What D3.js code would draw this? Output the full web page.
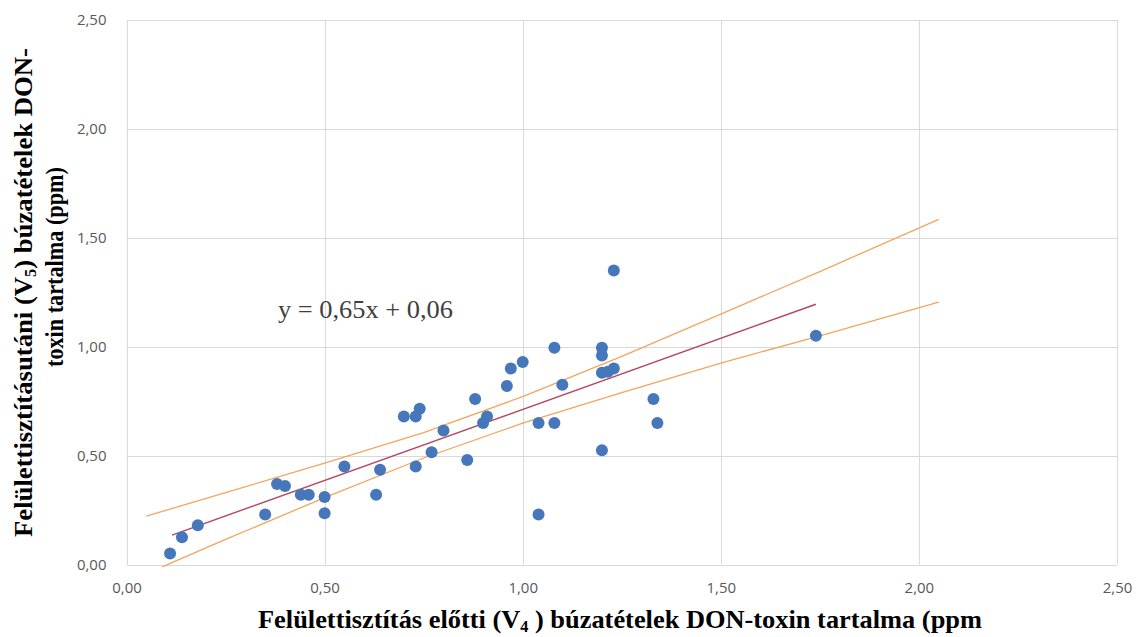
<!DOCTYPE html>
<html>
<head>
<meta charset="utf-8">
<script src="https://cdn.jsdelivr.net/npm/d3@7"></script>
<style>
  html, body { margin: 0; padding: 0; background: #fff; }
  svg { display: block; }
</style>
</head>
<body>
<svg id="chart" width="1136" height="637"></svg>
<script>
// ---- Data ----
const pointsX = [0.11, 0.14, 0.18, 0.35, 0.38, 0.40, 0.44, 0.46, 0.50, 0.50,
                 0.55, 0.63, 0.64, 0.70, 0.73, 0.74, 0.73, 0.77, 0.80, 0.86,
                 0.88, 0.90, 0.91, 0.96, 0.97, 1.00, 1.04, 1.04, 1.08, 1.08,
                 1.10, 1.20, 1.20, 1.20, 1.215, 1.23, 1.20, 1.23, 1.33, 1.34, 1.74];
const pointsY = [0.05, 0.125, 0.18, 0.23, 0.37, 0.36, 0.32, 0.32, 0.31, 0.235,
                 0.45, 0.32, 0.435, 0.68, 0.68, 0.715, 0.45, 0.515, 0.615, 0.48,
                 0.76, 0.65, 0.68, 0.82, 0.90, 0.93, 0.65, 0.23, 0.995, 0.65,
                 0.825, 0.995, 0.96, 0.88, 0.885, 0.90, 0.525, 1.35, 0.76, 0.65, 1.05];

// Trend line end points (y = 0,65x + 0,06), drawn across the data range
const trendX = [0.115, 1.74];
const trendY = [0.135, 1.195];

// Upper and lower confidence band lines
const upperX = [0.05, 0.25, 0.50, 0.75, 1.00, 1.25, 1.50, 1.75, 2.05];
const upperY = [0.222, 0.330, 0.465, 0.606, 0.771, 0.956, 1.150, 1.345, 1.585];
const lowerX = [0.09, 0.25, 0.50, 0.75, 1.00, 1.25, 1.50, 1.75, 2.05];
const lowerY = [-0.011, 0.115, 0.307, 0.489, 0.649, 0.789, 0.925, 1.050, 1.205];

const xTicks = [0, 0.5, 1.0, 1.5, 2.0, 2.5];
const yTicks = [0, 0.5, 1.0, 1.5, 2.0, 2.5];
const equationText = "y = 0,65x + 0,06";

// ---- Drawing ----
const svg = d3.select("#chart");
const x = d3.scaleLinear().domain([0, 2.5]).range([126.5, 1117]);
const y = d3.scaleLinear().domain([0, 2.5]).range([564.5, 20]);
const fmt = v => d3.format(".2f")(v).replace(".", ",");

// gridlines
const grid = svg.append("g").attr("class", "grid");
grid.selectAll("line.h").data(yTicks).join("line")
  .attr("x1", x(0)).attr("x2", x(2.5))
  .attr("y1", d => Math.round(y(d)) + 0.5).attr("y2", d => Math.round(y(d)) + 0.5)
  .attr("stroke", "#d9d9d9").attr("stroke-width", 1);
grid.selectAll("line.v").data(xTicks).join("line")
  .attr("y1", y(0)).attr("y2", y(2.5))
  .attr("x1", d => Math.round(x(d)) + 0.5).attr("x2", d => Math.round(x(d)) + 0.5)
  .attr("stroke", "#d9d9d9").attr("stroke-width", 1);

// axes (labels only, lines are the gridlines)
const xAxis = svg.append("g")
  .attr("transform", `translate(0,${y(0)})`)
  .call(d3.axisBottom(x).tickValues(xTicks).tickFormat(fmt).tickSize(0).tickPadding(18));
const yAxis = svg.append("g")
  .attr("transform", `translate(${x(0)},0)`)
  .call(d3.axisLeft(y).tickValues(yTicks).tickFormat(fmt).tickSize(0).tickPadding(20));
[xAxis, yAxis].forEach(a => {
  a.select(".domain").remove();
  a.selectAll("text")
    .attr("font-family", "'Open Sans', sans-serif")
    .attr("font-size", 15)
    .attr("fill", "#595959");
});

// confidence bands
const line = d3.line().x(d => x(d[0])).y(d => y(d[1]));
svg.append("path")
  .attr("d", line(d3.zip(upperX, upperY)))
  .attr("fill", "none").attr("stroke", "#f2a55e").attr("stroke-width", 1.3);
svg.append("path")
  .attr("d", line(d3.zip(lowerX, lowerY)))
  .attr("fill", "none").attr("stroke", "#f2a55e").attr("stroke-width", 1.3);

// trend line
svg.append("path")
  .attr("d", line(d3.zip(trendX, trendY)))
  .attr("fill", "none").attr("stroke", "#b3475f").attr("stroke-width", 1.4);

// points
svg.append("g").selectAll("circle")
  .data(d3.zip(pointsX, pointsY)).join("circle")
  .attr("cx", d => x(d[0])).attr("cy", d => y(d[1]))
  .attr("r", 6)
  .attr("fill", "#4577ba");

// equation
svg.append("text")
  .attr("x", 278).attr("y", 318)
  .attr("font-family", "'Liberation Serif', 'Times New Roman', serif")
  .attr("font-size", 26)
  .attr("fill", "#404040")
  .attr("textLength", 175).attr("lengthAdjust", "spacingAndGlyphs")
  .text(equationText);

// x axis title
const xt = svg.append("text")
  .attr("x", 258).attr("y", 628)
  .attr("font-family", "'Liberation Serif', 'Times New Roman', serif")
  .attr("font-weight", "bold").attr("font-size", 26).attr("fill", "#000")
  .attr("textLength", 724).attr("lengthAdjust", "spacingAndGlyphs");
xt.append("tspan").text("Felülettisztítás előtti (V");
xt.append("tspan").attr("font-size", 16).attr("dy", 4).text("4");
xt.append("tspan").attr("dy", -4).text(" ) búzatételek DON-toxin tartalma (ppm");

// y axis title (two rotated lines)
const yt1 = svg.append("text")
  .attr("transform", "translate(32,537) rotate(-90)")
  .attr("font-family", "'Liberation Serif', 'Times New Roman', serif")
  .attr("font-weight", "bold").attr("font-size", 26).attr("fill", "#000")
  .attr("textLength", 489).attr("lengthAdjust", "spacingAndGlyphs");
yt1.append("tspan").text("Felülettisztításutáni (V");
yt1.append("tspan").attr("font-size", 16).attr("dy", 4).text("5");
yt1.append("tspan").attr("dy", -4).text(") búzatételek DON-");

svg.append("text")
  .attr("transform", "translate(63,367) rotate(-90)")
  .attr("font-family", "'Liberation Serif', 'Times New Roman', serif")
  .attr("font-weight", "bold").attr("font-size", 26).attr("fill", "#000")
  .attr("textLength", 200).attr("lengthAdjust", "spacingAndGlyphs")
  .text("toxin tartalma (ppm)");
</script>
</body>
</html>
